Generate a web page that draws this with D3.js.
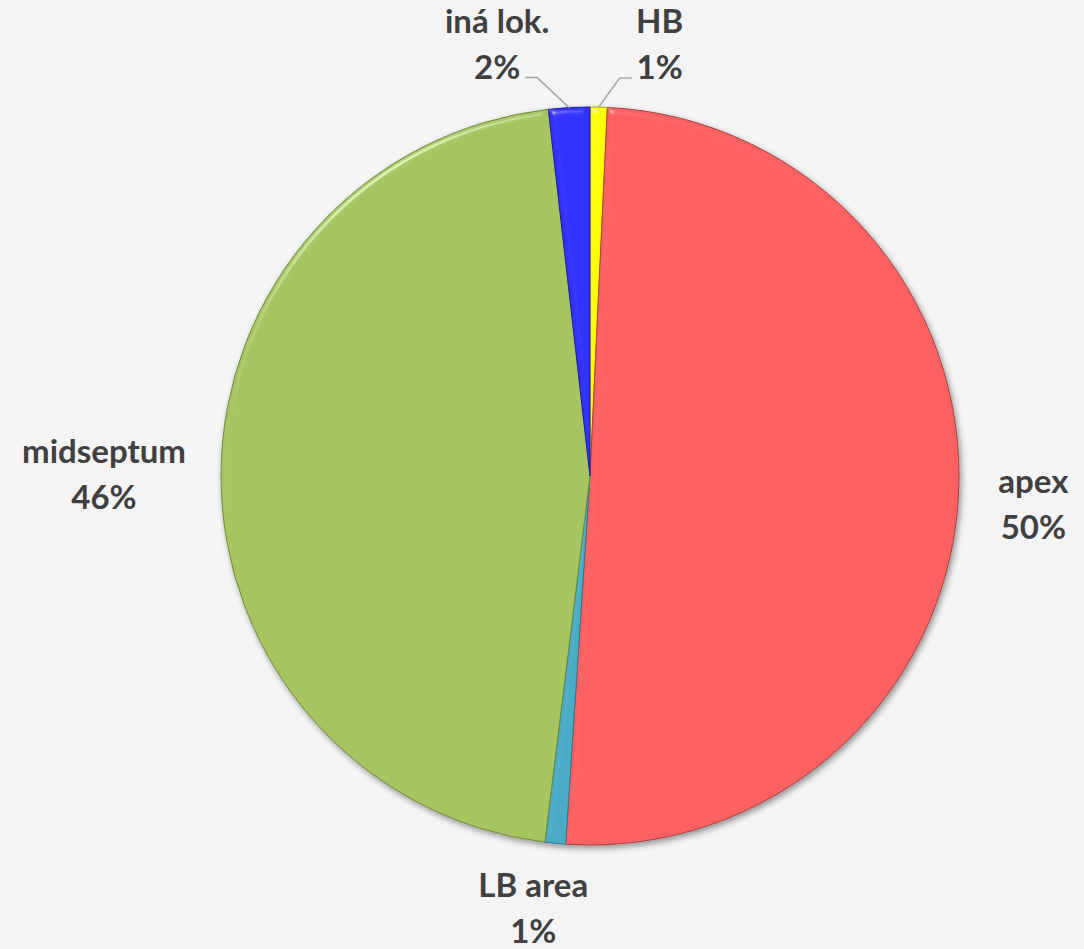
<!DOCTYPE html>
<meta charset="utf-8">
<style>
body { margin: 0; background: #f4f4f4; }
.lbl { font-family: Lato, "Open Sans", sans-serif; font-weight: bold; font-size: 33px; fill: #404040; }
.leader { fill: none; stroke: #a6a6a6; stroke-width: 1.5px; }
</style>
<body>
<script src="https://d3js.org/d3.v7.min.js"></script>
<script>
// slices in drawing order, clockwise from 12 o'clock
var categories = ["HB", "apex", "LB area", "midseptum", "iná lok."];
var shares = [0.75, 50.3, 0.9, 46.25, 1.8];
var pctLabels = ["1%", "50%", "1%", "46%", "2%"];

var colors = ["#ffff00", "#ff6161", "#4bacc6", "#a6c560", "#3333ff"];
var edges = ["#a8a800", "#a84040", "#2f7a8f", "#6f8a3e", "#1c1ca0"];

var width = 1084, height = 949,
    cx = 590, cy = 476, r = 369;

var svg = d3.select("body").append("svg")
    .attr("width", width)
    .attr("height", height);

svg.append("rect").attr("width", width).attr("height", height).attr("fill", "#f4f4f4");

var defs = svg.append("defs");

// drop shadow under the pie
var sh = defs.append("filter").attr("id", "shadow")
    .attr("x", "-10%").attr("y", "-10%").attr("width", "125%").attr("height", "125%");
sh.append("feGaussianBlur").attr("in", "SourceAlpha").attr("stdDeviation", 3);
sh.append("feOffset").attr("dx", 2).attr("dy", 3).attr("result", "b");
sh.append("feComponentTransfer").append("feFuncA").attr("type", "linear").attr("slope", 0.4);
var m = sh.append("feMerge");
m.append("feMergeNode");
m.append("feMergeNode").attr("in", "SourceGraphic");

// soft bevel on each slice (only the rims catch the light)
var bv = defs.append("filter").attr("id", "bevel")
    .attr("x", "-5%").attr("y", "-5%").attr("width", "110%").attr("height", "110%");
bv.append("feGaussianBlur").attr("in", "SourceAlpha").attr("stdDeviation", 3).attr("result", "blur");
bv.append("feSpecularLighting").attr("in", "blur").attr("surfaceScale", 4)
    .attr("specularConstant", 0.7).attr("specularExponent", 60)
    .attr("lighting-color", "#ffffff").attr("result", "spec")
  .append("feDistantLight").attr("azimuth", 235).attr("elevation", 40);
bv.append("feComposite").attr("in", "spec").attr("in2", "SourceAlpha")
    .attr("operator", "in").attr("result", "specIn");
bv.append("feComposite").attr("in", "SourceGraphic").attr("in2", "specIn")
    .attr("operator", "arithmetic").attr("k1", 0).attr("k2", 1).attr("k3", 0.55).attr("k4", 0);

var pie = d3.pie().sort(null).value(function(d) { return d; });
var arcs = pie(shares);

var arc = d3.arc().innerRadius(0).outerRadius(r);

var g = svg.append("g")
    .attr("transform", "translate(" + cx + "," + cy + ")")
    .attr("filter", "url(#shadow)");

g.selectAll("path.slice")
    .data(arcs)
  .enter().append("path")
    .attr("class", "slice")
    .attr("d", arc)
    .attr("fill", function(d, i) { return colors[i]; })
    .attr("stroke", function(d, i) { return edges[i]; })
    .attr("stroke-width", 1)
    .attr("filter", "url(#bevel)");

// label layout: offset of the text block from the rim point at the slice's mid angle
var labelNudge = [[61, -74], [75, -4], [-22, 54], [-117, -11], [-72, -75]];
var lineGap = 46;

function rimPoint(d, rad) {
  var a = (d.startAngle + d.endAngle) / 2;
  return [cx + rad * Math.sin(a), cy - rad * Math.cos(a)];
}

arcs.forEach(function(d, i) {
  var p = rimPoint(d, r);
  var lx = p[0] + labelNudge[i][0], ly = p[1] + labelNudge[i][1];
  var t = svg.append("text").attr("class", "lbl").attr("text-anchor", "middle");
  t.append("tspan").attr("x", lx).attr("y", ly).text(categories[i]);
  t.append("tspan").attr("x", lx).attr("y", ly + lineGap).text(pctLabels[i]);
});

// leader lines for the two thin top slices
[0, 4].forEach(function(i) {
  var d = arcs[i];
  var p = rimPoint(d, r);
  var lx = p[0] + labelNudge[i][0], ly = p[1] + labelNudge[i][1] + lineGap - 1;
  var side = i === 0 ? -1 : 1;
  var end = [lx + side * 28, ly];
  var elbow = [lx + side * 40, ly];
  svg.append("path").attr("class", "leader")
    .attr("d", d3.line()([end, elbow, p]));
});
</script>
</body>
